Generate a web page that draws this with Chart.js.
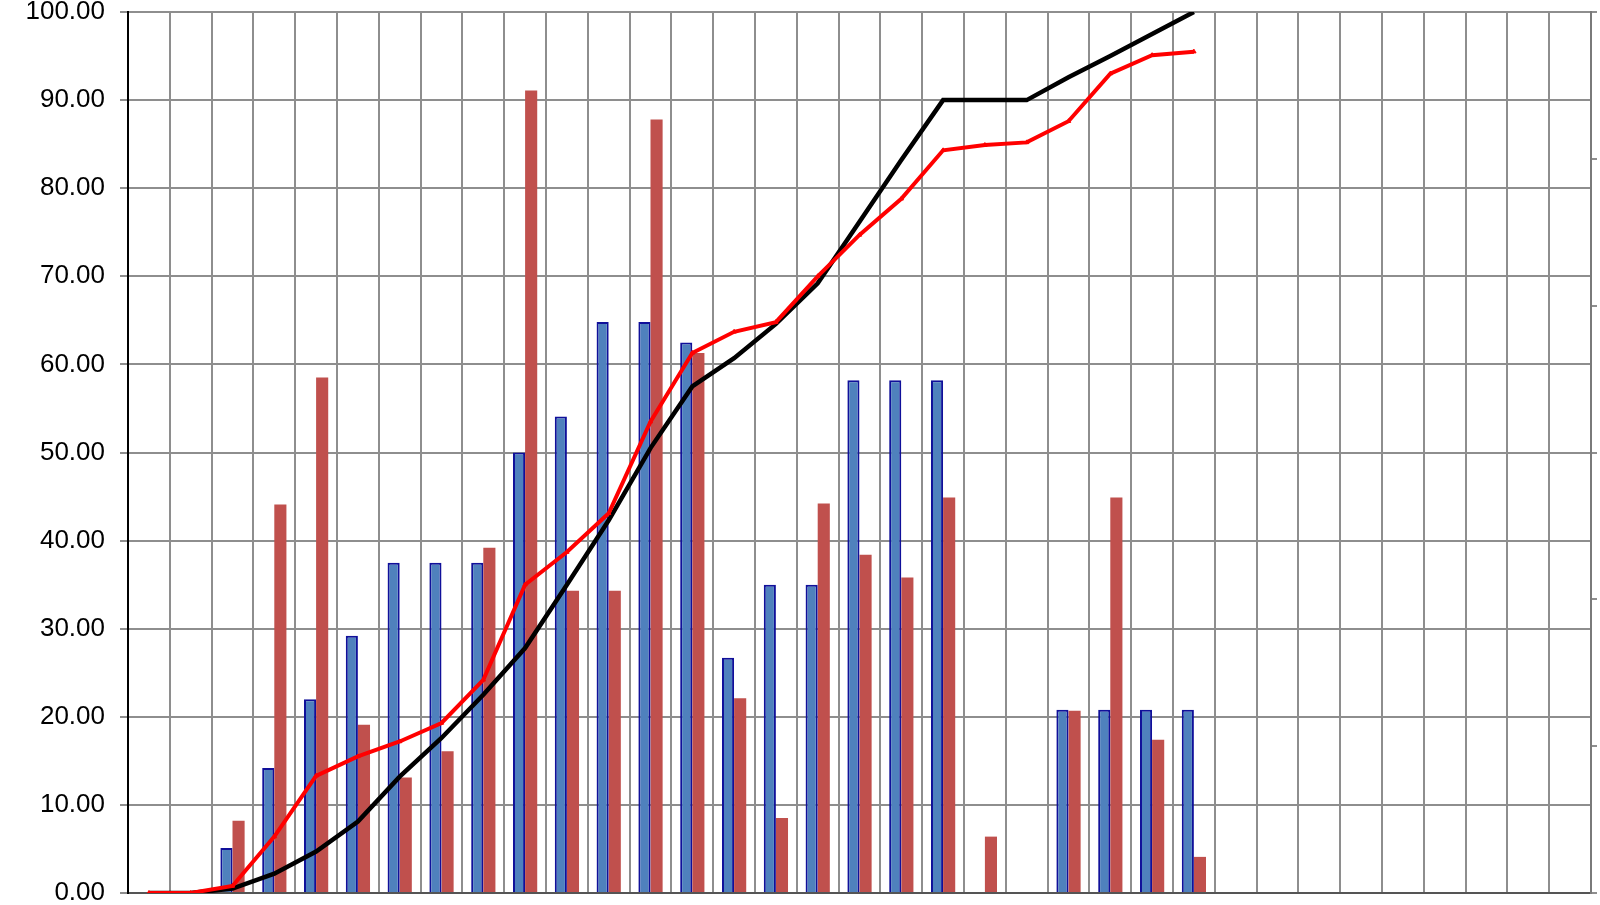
<!DOCTYPE html>
<html>
<head>
<meta charset="utf-8">
<script src="https://cdn.jsdelivr.net/npm/chart.js@4.4.1/dist/chart.umd.min.js"></script>
<style>
  html, body { margin: 0; padding: 0; background: #fff; }
  #wrap { width: 1600px; height: 905px; }
</style>
</head>
<body>
<div id="wrap"><canvas id="chart"></canvas></div>
<script>
// 35 categories, only the first 26 carry data
const CATEGORIES = Array.from({ length: 35 }, (_, i) => String(i + 1));

const BLUE_BARS = [null, null, 5.1, 14.2, 22.0, 29.2, 37.5, 37.5, 37.5, 50.0, 54.1, 64.8, 64.8, 62.5,
  26.7, 35.0, 35.0, 58.2, 58.2, 58.2, null, null, 20.8, 20.8, 20.8, 20.8];
const RED_BARS = [null, null, 8.2, 44.1, 58.5, 19.1, 13.1, 16.1, 39.2, 91.1, 34.3, 34.3, 87.8, 61.3,
  22.1, 8.5, 44.2, 38.4, 35.8, 44.9, 6.4, null, 20.7, 44.9, 17.4, 4.1];

const BLACK_LINE = [0, 0, 0.5, 2.2, 4.7, 8.1, 13.2, 17.6, 22.5, 27.8, 35.0, 42.3, 50.5, 57.5,
  60.7, 64.6, 69.2, 76.2, 83.2, 90.0, 90.0, 90.0, 92.6, 95.0, 97.5, 100.0];
const RED_LINE = [0, 0, 0.8, 6.4, 13.3, 15.5, 17.2, 19.3, 24.2, 35.0, 38.7, 43.1, 53.5, 61.3,
  63.7, 64.8, 70.0, 74.7, 78.8, 84.3, 84.9, 85.2, 87.6, 93.0, 95.1, 95.5];

const Y_MIN = 0, Y_MAX = 100, Y_STEP = 10;

const GRID = '#8e8e8e';

const ctx = document.getElementById('chart').getContext('2d');
new Chart(ctx, {
  type: 'bar',
  data: {
    labels: CATEGORIES,
    datasets: [
      {
        type: 'line',
        data: RED_LINE,
        borderColor: '#ff0000',
        backgroundColor: '#ff0000',
        borderWidth: 4,
        pointStyle: 'triangle',
        pointRadius: 2.5,
        pointBorderWidth: 1,
        tension: 0,
        order: 0,
      },
      {
        type: 'line',
        data: BLACK_LINE,
        borderColor: '#000000',
        borderWidth: 4.5,
        pointRadius: 0,
        tension: 0,
        order: 1,
      },
      {
        data: BLUE_BARS,
        backgroundColor: '#4f81bd',
        borderColor: '#10109a',
        borderWidth: 2,
        categoryPercentage: 0.58,
        barPercentage: 1.0,
        order: 2,
      },
      {
        data: RED_BARS,
        backgroundColor: '#c0504d',
        borderWidth: 0,
        categoryPercentage: 0.58,
        barPercentage: 1.0,
        order: 3,
      },
    ],
  },
  options: {
    responsive: true,
    maintainAspectRatio: false,
    animation: false,
    layout: { padding: 0 },
    plugins: {
      legend: { display: false },
      tooltip: { enabled: false },
    },
    scales: {
      x: {
        offset: true,
        grid: { offset: true, color: GRID, lineWidth: 2, drawTicks: false },
        border: { color: '#555', width: 2 },
        ticks: { display: false },
      },
      y: {
        min: Y_MIN,
        max: Y_MAX,
        afterFit: (scale) => {
          // fixed axis box so the plot starts where the original does
          scale.width = 128;
          scale.paddingTop = 12;
          scale.paddingBottom = 12;
        },
        grid: { color: GRID, lineWidth: 2, tickLength: 8, tickColor: GRID },
        border: { color: '#000', width: 2 },
        ticks: {
          stepSize: Y_STEP,
          padding: 15,
          color: '#000',
          font: { family: 'Liberation Sans, Arial, sans-serif', size: 26, lineHeight: 1 },
          callback: (v) => Number(v).toFixed(2),
        },
      },
      y2: {
        position: 'right',
        min: 0,
        max: 6,
        afterFit: (scale) => {
          scale.width = 9;
          scale.paddingTop = 0;
          scale.paddingBottom = 0;
        },
        grid: { drawOnChartArea: false, tickLength: 6, tickColor: GRID, lineWidth: 2 },
        border: { color: '#7a7a7a', width: 2 },
        ticks: { stepSize: 1, padding: 0, font: { size: 1 }, callback: () => '' },
      },
    },
  },
});
</script>
</body>
</html>
